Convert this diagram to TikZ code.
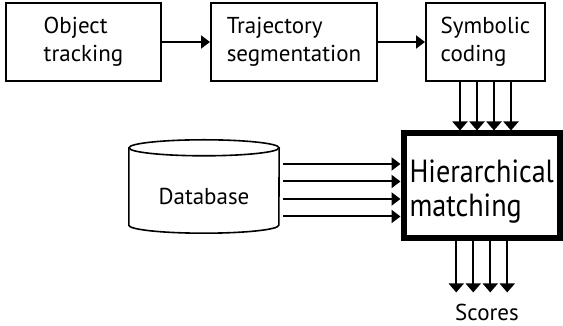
\documentclass[tikz,border=0pt]{standalone}
\usepackage{fontspec}
\setmainfont{PT Sans}
\newfontfamily\narrowsans[FakeStretch=0.88]{PT Sans}
\usetikzlibrary{arrows.meta,calc}
\begin{document}
\begin{tikzpicture}[x=1pt,y=1pt,
  stage/.style={draw, line width=2pt, minimum height=78pt, align=left,
    inner sep=0pt, font=\fontsize{23}{28}\selectfont},
  matcher/.style={draw, line width=6pt, minimum width=156.5pt, minimum height=105pt,
    inner sep=0pt},
  bigtext/.style={align=left, inner sep=0pt, font=\narrowsans\fontsize{32}{34}\selectfont},
  label/.style={font=\fontsize{23}{28}\selectfont, inner sep=0pt},
  flow/.style={line width=2pt, -{Triangle[length=9pt,width=13pt]}},
  bus/.style={line width=2pt, -{Triangle[length=9pt,width=15pt]}},
  rim/.style={line width=1.6pt}
]
\useasboundingbox (0,0) rectangle (563,326);

% processing chain
\node[stage, minimum width=155pt] (track) at (83.5,284) {Object\\tracking};
\node[stage, minimum width=166pt] (seg) at (294,284) {Trajectory\\segmentation};
\node[stage, minimum width=119pt] (code) at (485.5,284) {Symbolic\\coding};
\node[matcher] (match) at (481.75,140) {};
\node[bigtext] (matchtext) at ([yshift=-6pt]match.center) {Hierarchical\\matching};

% database drum
\node[minimum width=150pt, minimum height=93pt, inner sep=0pt] (db) at (204,139.5) {};
\draw[rim] ([yshift=-8pt]db.north west) -- ([yshift=8pt]db.south west)
  arc[start angle=180, end angle=360, x radius=75pt, y radius=8pt]
  -- ([yshift=-8pt]db.north east);
\draw[rim] ([yshift=-8pt]db.north) ellipse [x radius=75pt, y radius=8pt];
\node[label] (dbtext) at ([yshift=-10pt]db.center) {Database};

\node[label, anchor=base] (scores) at (487,5) {Scores};

% connectors
\draw[flow] (track) -- (seg);
\draw[flow] (seg) -- (code);
\foreach \dx in {-25.5,-8.5,8.5,25.5}
  \draw[bus] ([xshift=\dx pt]code.south) -- ([xshift=\dx pt]code.south |- match.north);
\foreach \dy in {22.5,5,-12.5,-30}
  \draw[flow] ([xshift=4pt,yshift=\dy pt]db.east) -- ([yshift=\dy pt]db.east -| match.west);
\foreach \dx in {-25.5,-8.5,8.5,25.5}
  \draw[bus] ([xshift=\dx pt]match.south) -- ([xshift=\dx pt,yshift=12pt]match.south |- scores.north);
\end{tikzpicture}
\end{document}
